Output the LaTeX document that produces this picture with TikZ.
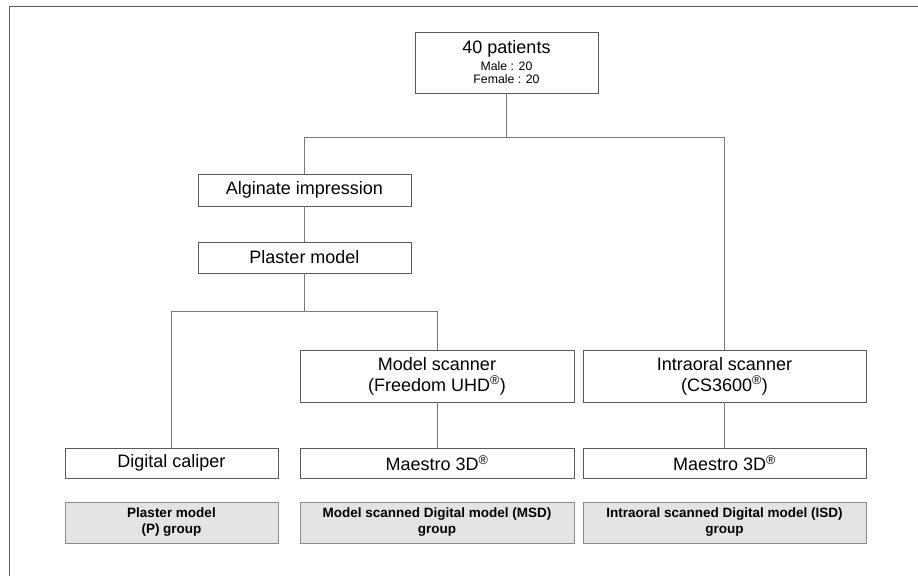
\documentclass[tikz,border=0pt]{standalone}
\usepackage{fontspec}
\setmainfont{Liberation Sans}
\definecolor{edgegray}{HTML}{5A5A5A}
\definecolor{linkgray}{HTML}{7A7A7A}
\definecolor{grpgray}{HTML}{8C8C8C}
\definecolor{grpfill}{HTML}{E4E4E4}
\begin{document}
\begin{tikzpicture}[x=1pt,y=-1pt,
  every node/.style={draw=edgegray, line width=0.8, rectangle, inner sep=0, align=center, font=\fontsize{18}{21}\selectfont},
  grp/.style={draw=grpgray, fill=grpfill, minimum height=41, font=\bfseries\fontsize{13.5}{16}\selectfont}]
  \useasboundingbox (0,0) rectangle (918,576);
  \draw[edgegray, line width=1] (9,576) -- (9,6) -- (918,6);
  \node[minimum width=183, minimum height=61, font=\fontsize{12.3}{13}\selectfont] (pat) at (506.5,62.5)
    {{\fontsize{18}{18}\selectfont 40 patients}\\[4pt] Male : 20\\ Female : 20};
  \node[minimum width=213, minimum height=32] (alg) at (304.5,190) {Alginate impression};
  \node[minimum width=213, minimum height=31] (pla) at (304.5,257.5) {Plaster model};
  \node[minimum width=274, minimum height=52] (msc) at (437,376) {Model scanner\\(Freedom UHD\textsuperscript{\textregistered})};
  \node[minimum width=283, minimum height=52] (ios) at (724.5,376) {Intraoral scanner\\(CS3600\textsuperscript{\textregistered})};
  \foreach \i/\x/\w/\lab/\glab in {1/171.5/213/Digital caliper/Plaster model\\(P) group,
      2/437/274/Maestro 3D\textsuperscript{\textregistered}/Model scanned Digital model (MSD)\\group,
      3/724.5/283/Maestro 3D\textsuperscript{\textregistered}/Intraoral scanned Digital model (ISD)\\group} {
    \node[minimum width=\w, minimum height=30] (m\i) at (\x,463) {\lab};
    \node[grp, minimum width=\w] (g\i) at (\x,522.5) {\glab};
  }
  \coordinate (j1) at (506.5,137);
  \coordinate (j2) at (304.5,311);
  \draw[linkgray, line width=0.8] (pat) -- (j1) -| (alg);
  \draw[linkgray, line width=0.8] (j1) -| (ios);
  \draw[linkgray, line width=0.8] (alg) -- (pla) -- (j2) -| (m1);
  \draw[linkgray, line width=0.8] (j2) -| (msc);
  \foreach \a/\b in {msc/m2,ios/m3} {
    \draw[linkgray, line width=0.8] (\a) -- (\b);
  }
\end{tikzpicture}
\end{document}
